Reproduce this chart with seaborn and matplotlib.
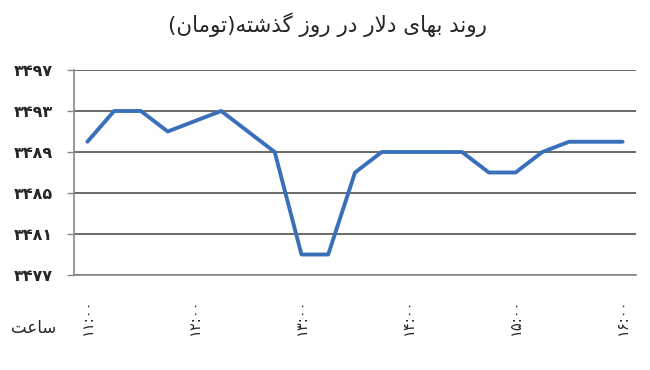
import matplotlib
matplotlib.use("Agg")
import matplotlib.pyplot as plt
import seaborn as sns
import pandas as pd
import numpy as np

# ---- data ----
hour_labels = ["۱۱:۰۰", "۱۲:۰۰", "۱۳:۰۰", "۱۴:۰۰", "۱۵:۰۰", "۱۶:۰۰"]
steps_per_hour = 4  # 15-minute readings
prices = [3490, 3493, 3493, 3491, 3492, 3493, 3491, 3489, 3479, 3479, 3487,
          3489, 3489, 3489, 3489, 3487, 3487, 3489, 3490, 3490, 3490]
y_ticks = [3477, 3481, 3485, 3489, 3493, 3497]

# Persian words written with Arabic presentation forms (logical order), shown in visual order
w_ravand = "\uFEAD\uFEED\uFEE7\uFEAA"
w_bahaye = "\uFE91\uFEEC\uFE8E\uFEEF"
w_dolar = "\uFEA9\uFEFB\uFEAD"
w_dar = "\uFEA9\uFEAD"
w_ruz = "\uFEAD\uFEED\uFEAF"
w_gozashte = "\uFB94\uFEAC\uFEB7\uFE98\uFEEA"
w_toman = "\uFE97\uFEEE\uFEE3\uFE8E\uFEE5"
w_saat = "\uFEB3\uFE8E\uFECB\uFE96"

title_text = ("(" + w_toman[::-1] + ")" + w_gozashte[::-1] + " " + w_ruz[::-1] + " "
              + w_dar[::-1] + " " + w_dolar[::-1] + " " + w_bahaye[::-1] + " " + w_ravand[::-1])
xlabel_text = w_saat[::-1]

fa_digits = str.maketrans("0123456789", "۰۱۲۳۴۵۶۷۸۹")

df = pd.DataFrame({"idx": np.arange(len(prices)), "price": prices})

# ---- style ----
sns.set_style("white")
plt.rcParams["font.family"] = ["DejaVu Sans"]

fig = plt.figure(figsize=(6.5, 3.7), dpi=100)
ax = fig.add_axes([74 / 650, 1 - 275 / 370, (636 - 74) / 650, (275 - 70) / 370])

sns.lineplot(data=df, x="idx", y="price", ax=ax, color="#3A70BA", linewidth=2.8)

ax.set_xlim(-0.5, len(prices) - 0.5)
ax.set_ylim(y_ticks[0], y_ticks[-1])
ax.set_yticks(y_ticks)
ax.set_yticklabels([str(v).translate(fa_digits) for v in y_ticks], fontsize=11.5,
                   fontweight="bold")

ax.set_xticks(np.arange(0, len(prices), steps_per_hour))
ax.set_xticklabels(hour_labels, rotation=90, fontsize=10.5)
ax.set_xticks(np.arange(-0.5, len(prices), 1), minor=True)

ax.tick_params(axis="x", which="major", length=0, pad=17)
ax.tick_params(axis="x", which="minor", length=5, color="#888888", width=1, direction="out")
ax.tick_params(axis="y", which="major", length=5, color="#888888", width=1, pad=10, left=True)

ax.grid(axis="y", color="#404040", linewidth=1.1)
ax.set_axisbelow(True)
for s in ["top", "right"]:
    ax.spines[s].set_visible(False)
for s in ["left", "bottom"]:
    ax.spines[s].set_color("#888888")
    ax.spines[s].set_linewidth(1.2)

ax.set_xlabel("")
ax.set_ylabel("")

fig.text(327 / 650, 1 - 25 / 370, title_text, ha="center", va="center", fontsize=15.5)
fig.text(34 / 650, 1 - 328 / 370, xlabel_text, ha="center", va="center", fontsize=12)

fig.savefig("out.png", dpi=100, facecolor="white")
